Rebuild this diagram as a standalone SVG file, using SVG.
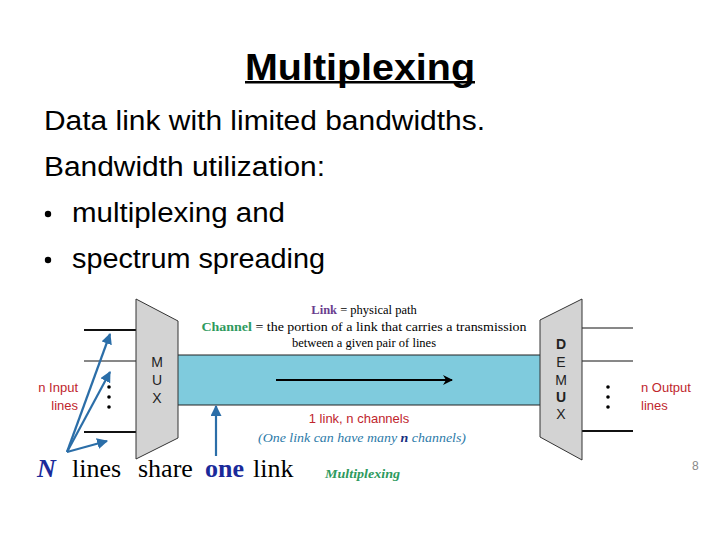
<svg xmlns="http://www.w3.org/2000/svg" width="720" height="540" viewBox="0 0 720 540">
<style>
.body{font-family:"Liberation Sans","Open Sans",sans-serif;font-size:27px;fill:#000}
.ser{font-family:"Liberation Serif","DejaVu Serif",serif;fill:#000}
.lbl{font-family:"Liberation Sans","Open Sans",sans-serif;font-size:13px;fill:#c0262d}
.mux{font-family:"Liberation Sans","Open Sans",sans-serif;font-size:14px;fill:#222;text-anchor:middle}
.box{fill:#d3d3d3;stroke:#333;stroke-width:1}
.ln{stroke:#111;stroke-width:1}
.lnb{stroke:#111;stroke-width:2}
.bl{stroke:#2b6ea8;stroke-width:2.2;fill:none}
</style>
<defs>
<marker id="ab" viewBox="0 0 10 10" refX="9" refY="5" markerWidth="5" markerHeight="5" orient="auto"><path d="M0,0 L10,5 L0,10 z" fill="#2b6ea8"/></marker>
<marker id="ak" viewBox="0 0 10 10" refX="9" refY="5" markerWidth="5" markerHeight="5" orient="auto"><path d="M0,0 L10,5 L0,10 L3,5 z" fill="#000"/></marker>
</defs>
<rect width="720" height="540" fill="#fff"/>
<g id="title">
<text x="360" y="80" text-anchor="middle" font-family="Liberation Sans, Open Sans, sans-serif" font-weight="bold" font-size="36" textLength="230" lengthAdjust="spacingAndGlyphs">Multiplexing</text>
<rect x="245" y="81" width="230" height="2.5" fill="#000"/>
</g>
<g id="bullets">
<text class="body" x="44" y="130" textLength="441" lengthAdjust="spacingAndGlyphs">Data link with limited bandwidths.</text>
<text class="body" x="44" y="176" textLength="281" lengthAdjust="spacingAndGlyphs">Bandwidth utilization:</text>
<circle cx="48" cy="214" r="3.2" fill="#000"/>
<text class="body" x="72" y="222" textLength="213" lengthAdjust="spacingAndGlyphs">multiplexing and</text>
<circle cx="48" cy="260" r="3.2" fill="#000"/>
<text class="body" x="72" y="268" textLength="253" lengthAdjust="spacingAndGlyphs">spectrum spreading</text>
</g>
<g id="link">
<rect x="170" y="355" width="375" height="50" fill="#7fcbdd" stroke="#222" stroke-width="1"/>
<line x1="276" y1="380" x2="452" y2="380" stroke="#000" stroke-width="2" marker-end="url(#ak)"/>
</g>
<g id="inputs">
<line class="lnb" x1="84" y1="330" x2="137" y2="330"/>
<line class="ln" x1="84" y1="361" x2="137" y2="361"/>
<line class="lnb" x1="84" y1="432" x2="137" y2="432"/>
<circle cx="109" cy="387" r="1.8" fill="#000"/>
<circle cx="109" cy="397" r="1.8" fill="#000"/>
<circle cx="109" cy="407" r="1.8" fill="#000"/>
<text class="lbl" x="78" y="392" text-anchor="end">n Input</text>
<text class="lbl" x="78" y="410" text-anchor="end">lines</text>
</g>
<g id="outputs">
<line class="ln" x1="582" y1="328" x2="633" y2="328"/>
<line class="ln" x1="582" y1="361" x2="633" y2="361"/>
<line class="lnb" x1="582" y1="431" x2="633" y2="431"/>
<circle cx="608" cy="387" r="1.8" fill="#000"/>
<circle cx="608" cy="397" r="1.8" fill="#000"/>
<circle cx="608" cy="407" r="1.8" fill="#000"/>
<text class="lbl" x="641" y="392">n Output</text>
<text class="lbl" x="641" y="410">lines</text>
</g>
<g id="mux">
<polygon class="box" points="136,299 178,321 178,438 136,459"/>
<text class="mux" x="157" y="367">M</text>
<text class="mux" x="157" y="385">U</text>
<text class="mux" x="157" y="403">X</text>
</g>
<g id="demux">
<polygon class="box" points="540,320 582,299 582,460 540,437"/>
<text class="mux" x="561" y="349" font-weight="bold">D</text>
<text class="mux" x="561" y="367">E</text>
<text class="mux" x="561" y="385">M</text>
<text class="mux" x="561" y="402" font-weight="bold">U</text>
<text class="mux" x="561" y="419">X</text>
</g>
<g id="defs-text" class="ser" font-size="12.5" text-anchor="middle">
<text x="364" y="314"><tspan fill="#6a3d8e" font-weight="bold">Link</tspan> = physical path</text>
<text x="364" y="331" textLength="325" lengthAdjust="spacingAndGlyphs"><tspan fill="#2e9a5e" font-weight="bold">Channel</tspan> = the portion of a link that carries a transmission</text>
<text x="364" y="347">between a given pair of lines</text>
</g>
<g id="link-labels">
<text class="lbl" x="359" y="423" text-anchor="middle">1 link, n channels</text>
<text x="362" y="442" text-anchor="middle" font-family="Liberation Serif, serif" font-style="italic" font-size="12" fill="#2b7aa8" textLength="208" lengthAdjust="spacingAndGlyphs">(One link can have many <tspan font-weight="bold" fill="#1a2f80">n</tspan> channels)</text>
</g>
<g id="connectors">
<line class="bl" x1="67" y1="452" x2="110" y2="334" marker-end="url(#ab)"/>
<line class="bl" x1="67" y1="452" x2="110" y2="372" marker-end="url(#ab)"/>
<line class="bl" x1="67" y1="452" x2="107" y2="441" marker-end="url(#ab)"/>
<line class="bl" x1="216" y1="456" x2="216" y2="406" marker-end="url(#ab)"/>
</g>
<g id="caption">
<text class="ser" x="37" y="477" font-size="26"><tspan fill="#1a2a9a" font-style="italic" font-weight="bold">N</tspan><tspan x="72">lines</tspan><tspan x="138">share</tspan><tspan x="205" fill="#1a2a9a" font-weight="bold">one</tspan><tspan x="253">link</tspan></text>
<text x="325" y="478" font-family="Liberation Serif, serif" font-style="italic" font-weight="bold" font-size="12.5" fill="#2e9a5e" textLength="75" lengthAdjust="spacingAndGlyphs">Multiplexing</text>
<text x="692" y="470" font-family="Liberation Sans, sans-serif" font-size="12" fill="#888">8</text>
</g>
</svg>
